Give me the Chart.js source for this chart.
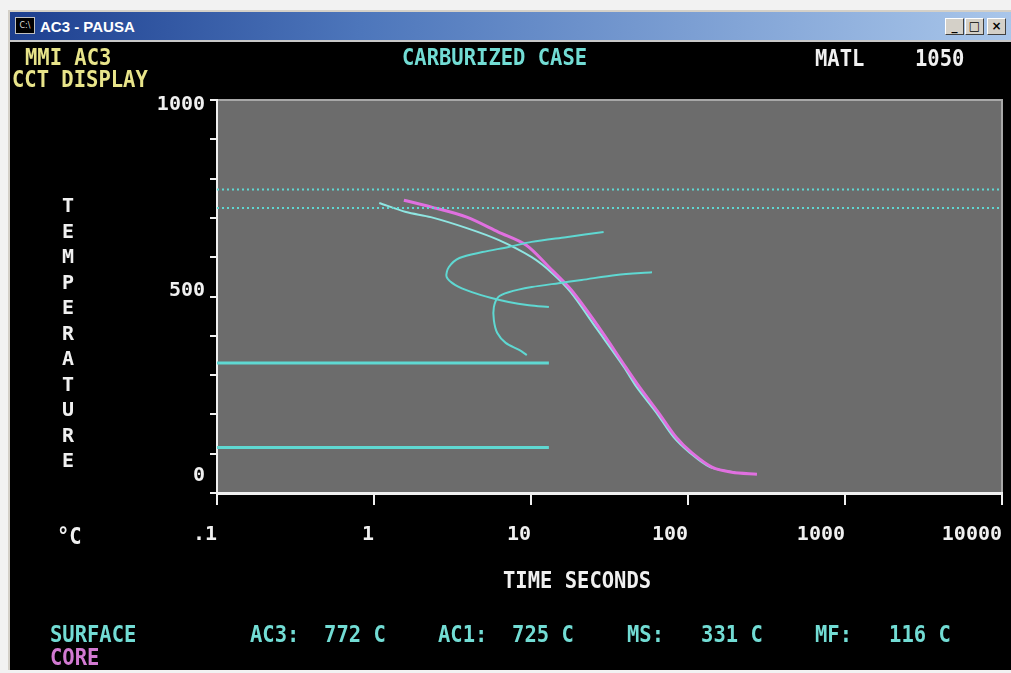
<!DOCTYPE html>
<html>
<head>
<meta charset="utf-8">
<title>AC3 - PAUSA</title>
<script src="https://cdn.jsdelivr.net/npm/chart.js@4.4.1/dist/chart.umd.min.js"></script>
<style>
  body { margin: 0; width: 1011px; height: 673px; overflow: hidden; position: relative; background: #f2f2f2; }
  #win { position: absolute; left: 8px; top: 10px; right: 0; bottom: 3px; background: #000; border-left: 2px solid #d4d0c8; border-top: 2px solid #d4d0c8; }
  #titlebar { position: absolute; left: 10px; top: 12px; width: 1001px; height: 28px;
    background: linear-gradient(90deg, #1d3f8f 0%, #4d76bb 35%, #a9c6ea 100%); border-bottom: 2px solid #c8c8c8; }
  #titlebar .txt { position: absolute; left: 30px; top: 6px; color: #fff; font: bold 15px "Liberation Sans", Arial, sans-serif; }
  #titlebar .icon { position: absolute; left: 5px; top: 5px; width: 18px; height: 15px; background: #000; border: 1px solid #c0c0c0;
    color: #ddd; font: 8px "DejaVu Sans", sans-serif; line-height: 15px; text-align: center; }
  .btn { position: absolute; top: 6px; width: 17px; height: 15px; background: #d4d0c8; border: 1px solid #fff;
    border-right-color: #404040; border-bottom-color: #404040; font: bold 12px "DejaVu Sans", sans-serif;
    color: #000; text-align: center; line-height: 14px; }
  canvas { position: absolute; left: 0; top: 0; }
  .t { position: absolute; font: bold 20.5px "DejaVu Sans Mono", monospace; line-height: 20.5px; white-space: pre;
    transform: scaleY(1.15); transform-origin: top left; }
  .yel { color: #e8e48a; }
  .cy { color: #72dcd4; }
  .wh { color: #f0f0f0; }
  .mg { color: #d27ad2; }
  #ytitle { position: absolute; left: 58px; top: 193px; writing-mode: vertical-lr; text-orientation: upright;
    letter-spacing: 1.5px; font: bold 20px "DejaVu Sans Mono", monospace; line-height: 20px; color: #f0f0f0; }
</style>
</head>
<body>
<div id="win"></div>
<div id="titlebar">
  <div class="icon">C:\</div>
  <div class="txt">AC3 - PAUSA</div>
  <div class="btn" style="left:935px">_</div>
  <div class="btn" style="left:955px">□</div>
  <div class="btn" style="left:977px">×</div>
</div>
<canvas id="cct" width="1011" height="673"></canvas>

<div class="t yel" style="left:25px; top:45px">MMI AC3</div>
<div class="t yel" style="left:12px; top:67px">CCT DISPLAY</div>
<div class="t cy" style="left:402px; top:45px">CARBURIZED CASE</div>
<div class="t wh" style="left:815px; top:46px">MATL</div>
<div class="t wh" style="left:915px; top:46px">1050</div>
<div id="ytitle">TEMPERATURE</div>
<div class="t wh" style="left:57px; top:524px">°C</div>
<div class="t wh" style="left:503px; top:568px">TIME SECONDS</div>
<div class="t cy" style="left:50px; top:622px">SURFACE</div>
<div class="t mg" style="left:50px; top:645px">CORE</div>
<div id="footer"></div>

<script>
// critical temperatures shown as reference lines and in the footer
const criticalNames = ['AC3', 'AC1', 'MS', 'MF'];
const criticalTemps = [772, 725, 331, 116];
const martensiteLineEnd = 13; // seconds, where the MS / MF lines stop

// axis ticks
const xTicks = [0.1, 1, 10, 100, 1000, 10000];
const xTickLabels = ['.1', '1', '10', '100', '1000', '10000'];

// cooling curves (seconds, deg C)
const coreTime = [1.55, 2.3, 3.9, 6.2, 9.3, 13, 18, 27, 40, 49, 65, 84, 106, 142, 190, 275];
const coreTemp = [745, 728, 702, 664, 631, 575, 517, 422, 321, 270, 204, 142, 102, 66, 53, 48];
const surfaceTime = [1.08, 1.6, 2.3, 3.9, 6.2, 10.1, 13.6, 18, 26, 39, 47, 63, 81, 103, 138, 200];
const surfaceTemp = [738, 715, 702, 674, 644, 600, 560, 510, 420, 321, 270, 204, 142, 102, 66, 52];

// transformation curves
const startTime = [29, 16.7, 10.1, 7.2, 4.9, 3.5, 3.0, 2.9, 3.3, 4.2, 5.6, 7.2, 9.7, 13];
const startTemp = [664, 651, 639, 626, 613, 598, 575, 550, 529, 511, 496, 486, 478, 473];
const finishTime = [59, 35, 21, 15, 10.1, 7.2, 6.2, 5.8, 5.8, 6.1, 6.9, 8.4, 9.4];
const finishTemp = [562, 555, 542, 534, 524, 511, 499, 473, 440, 407, 382, 364, 351];

const CYAN = '#5fd8d2';
const MAGENTA = '#e070e0';
const WHITE = '#f0f0f0';
const monoFont = { family: '"DejaVu Sans Mono", monospace', size: 20, weight: 'bold', lineHeight: 1.1 };

function pts(xs, ys) {
    return xs.map((x, i) => ({ x: x, y: ys[i] }));
}

// footer text built from the critical temperatures
const footerLeft = [250, 438, 627, 815];
const footer = document.getElementById('footer');
criticalNames.forEach((name, i) => {
    const d = document.createElement('div');
    d.className = 't cy';
    d.style.left = footerLeft[i] + 'px';
    d.style.top = '622px';
    const gap = name.length === 3 ? '  ' : '   ';
    d.textContent = name + ':' + gap + criticalTemps[i] + ' C';
    footer.appendChild(d);
});

const datasets = [];
criticalTemps.forEach((temp, i) => {
    const upper = i < 2;
    datasets.push({
        label: criticalNames[i],
        data: [{ x: 0.1, y: temp }, { x: upper ? 10000 : martensiteLineEnd, y: temp }],
        borderColor: CYAN,
        borderWidth: upper ? 2 : 3,
        borderDash: upper ? [2, 3] : []
    });
});
datasets.push({ label: 'start', data: pts(startTime, startTemp), borderColor: CYAN, borderWidth: 2, tension: 0.3 });
datasets.push({ label: 'finish', data: pts(finishTime, finishTemp), borderColor: CYAN, borderWidth: 2, tension: 0.3 });
datasets.push({ label: 'core', data: pts(coreTime, coreTemp), borderColor: MAGENTA, borderWidth: 3, tension: 0.3 });
datasets.push({ label: 'surface', data: pts(surfaceTime, surfaceTemp), borderColor: '#8fe6e2', borderWidth: 2, tension: 0.3 });
datasets.forEach(d => { d.showLine = true; d.pointRadius = 0; d.fill = false; });

// gray plotting field
const plotBackground = {
    id: 'plotBackground',
    beforeDraw(chart) {
        const { ctx, chartArea: a } = chart;
        ctx.save();
        ctx.fillStyle = '#6c6c6c';
        ctx.fillRect(a.left, a.top, a.right - a.left, a.bottom - a.top);
        ctx.strokeStyle = '#a8a8a8';
        ctx.lineWidth = 2;
        ctx.beginPath();
        ctx.moveTo(a.left, a.top);
        ctx.lineTo(a.right, a.top);
        ctx.lineTo(a.right, a.bottom);
        ctx.stroke();
        ctx.restore();
    }
};

new Chart(document.getElementById('cct').getContext('2d'), {
    type: 'scatter',
    data: { datasets: datasets },
    plugins: [plotBackground],
    options: {
        responsive: false,
        animation: false,
        layout: { padding: { top: 100, right: 9, left: 0, bottom: 0 } },
        plugins: { legend: { display: false }, tooltip: { enabled: false } },
        scales: {
            x: {
                type: 'logarithmic',
                min: 0.1,
                max: 10000,
                afterBuildTicks: s => { s.ticks = xTicks.map(v => ({ value: v })); },
                afterFit: s => { s.height = 180; s.paddingRight = 0; s.paddingLeft = 0; },
                grid: { drawOnChartArea: false, color: WHITE, lineWidth: 2, tickLength: 12 },
                border: { color: WHITE, width: 3 },
                ticks: {
                    color: WHITE,
                    font: monoFont,
                    align: 'end',
                    padding: 19,
                    maxRotation: 0,
                    autoSkip: false,
                    callback: v => {
                        const i = xTicks.findIndex(t => Math.abs(t - v) < 1e-9);
                        return i >= 0 ? xTickLabels[i] : '';
                    }
                }
            },
            y: {
                min: 0,
                max: 1000,
                afterFit: s => { s.width = 217; },
                grid: { drawOnChartArea: false, color: WHITE, lineWidth: 2, tickLength: 7 },
                border: { color: WHITE, width: 2 },
                ticks: {
                    stepSize: 100,
                    autoSkip: false,
                    color: WHITE,
                    font: monoFont,
                    padding: 5,
                    labelOffset: -6,
                    callback: v => {
                        if (v === 1000) return ['', '1000'];
                        if (v === 500) return '500';
                        if (v === 0) return ['0', ''];
                        return '';
                    }
                }
            }
        }
    }
});
</script>
</body>
</html>
